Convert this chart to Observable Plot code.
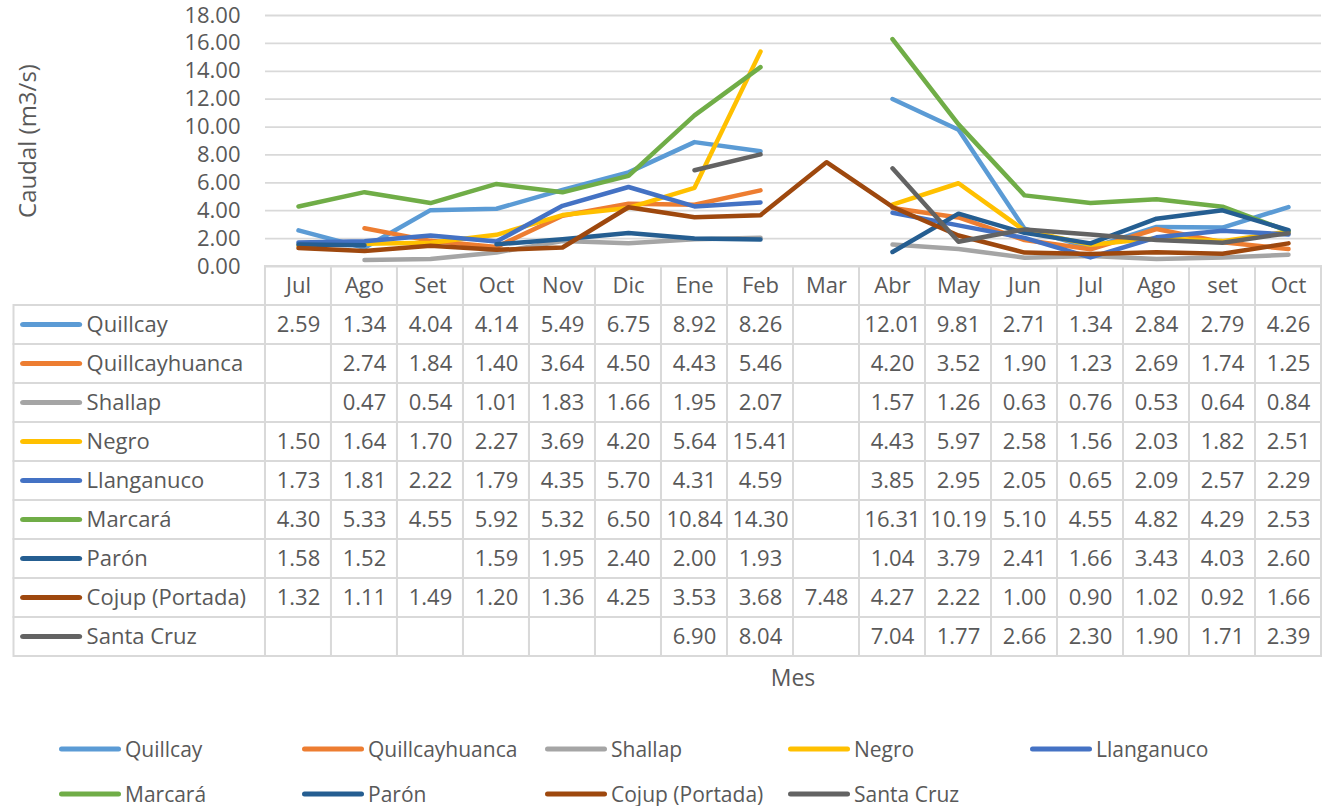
<!DOCTYPE html>
<html>
<head>
<meta charset="utf-8">
<script src="https://cdn.jsdelivr.net/npm/d3@7"></script>
<script src="https://cdn.jsdelivr.net/npm/@observablehq/plot@0.6"></script>
<style>
  html, body { margin: 0; padding: 0; background: #fff; }
  #root { position: relative; width: 1327px; height: 806px; overflow: hidden; background: #fff;
          font-family: "Open Sans", sans-serif; color: #595959; }
  #chart { position: absolute; left: 0; top: 0; z-index: 2; }
  #table { position: absolute; left: 0; top: 264px; z-index: 1; }
  .lbl { position: absolute; color: #595959; white-space: nowrap; z-index: 3; }
  #ylab { left: 26px; top: 141px; transform: translate(-50%, -50%) rotate(-90deg); font-size: 24px; }
  #xlab { left: 793px; top: 677px; transform: translate(-50%, -50%); font-size: 23px; }
  .leg { position: absolute; display: flex; align-items: center; font-size: 21px; line-height: 1; color: #595959; white-space: nowrap; transform: translateY(-50%); }
  .sw { display: inline-block; width: 62px; height: 5px; border-radius: 3px; margin-right: 4px; }
</style>
</head>
<body>
<div id="root">
  <div id="table"></div>
  <div id="chart"></div>
  <div class="lbl" id="ylab">Caudal (m3/s)</div>
  <div class="lbl" id="xlab">Mes</div>
  <div id="legend"></div>
</div>
<script>
const months = ["Jul","Ago","Set","Oct","Nov","Dic","Ene","Feb","Mar","Abr","May","Jun","Jul","Ago","set","Oct"];
const seriesNames = ["Quillcay","Quillcayhuanca","Shallap","Negro","Llanganuco","Marcará","Parón","Cojup (Portada)","Santa Cruz"];
const colors = ["#5B9BD5","#ED7D31","#A5A5A5","#FFC000","#4472C4","#70AD47","#255E91","#9E480E","#636363"];
const yTicks = [0,2,4,6,8,10,12,14,16,18];

const quillcay      = [2.59,1.34,4.04,4.14,5.49,6.75,8.92,8.26,null,12.01,9.81,2.71,1.34,2.84,2.79,4.26];
const quillcayhuanca= [null,2.74,1.84,1.40,3.64,4.50,4.43,5.46,null,4.20,3.52,1.90,1.23,2.69,1.74,1.25];
const shallap       = [null,0.47,0.54,1.01,1.83,1.66,1.95,2.07,null,1.57,1.26,0.63,0.76,0.53,0.64,0.84];
const negro         = [1.50,1.64,1.70,2.27,3.69,4.20,5.64,15.41,null,4.43,5.97,2.58,1.56,2.03,1.82,2.51];
const llanganuco    = [1.73,1.81,2.22,1.79,4.35,5.70,4.31,4.59,null,3.85,2.95,2.05,0.65,2.09,2.57,2.29];
const marcara       = [4.30,5.33,4.55,5.92,5.32,6.50,10.84,14.30,null,16.31,10.19,5.10,4.55,4.82,4.29,2.53];
const paron         = [1.58,1.52,null,1.59,1.95,2.40,2.00,1.93,null,1.04,3.79,2.41,1.66,3.43,4.03,2.60];
const cojup         = [1.32,1.11,1.49,1.20,1.36,4.25,3.53,3.68,7.48,4.27,2.22,1.00,0.90,1.02,0.92,1.66];
const santaCruz     = [null,null,null,null,null,null,6.90,8.04,null,7.04,1.77,2.66,2.30,1.90,1.71,2.39];

const seriesValues = [quillcay, quillcayhuanca, shallap, negro, llanganuco, marcara, paron, cojup, santaCruz];

const data = seriesNames.flatMap((s, k) => seriesValues[k].map((v, i) => ({series: s, i, v})));
const font = "'Open Sans', sans-serif";
const txt = "#595959";
const gridColor = "#D9D9D9";

// ---- Line chart ----
const chart = Plot.plot({
  width: 1327, height: 292,
  marginTop: 15, marginBottom: 26, marginLeft: 265, marginRight: 6,
  style: {fontFamily: font, fontSize: "22px", color: txt, background: "transparent", overflow: "visible"},
  x: {domain: [0, 16], axis: null},
  y: {domain: [0, 18], ticks: yTicks, tickFormat: d3.format(".2f"), tickSize: 0, tickPadding: 25, label: null},
  color: {domain: seriesNames, range: colors},
  marks: [
    Plot.ruleY(yTicks, {stroke: gridColor, strokeWidth: 1.8}),
    Plot.line(data, {x: d => d.i + 0.5, y: "v", z: "series", stroke: "series",
      strokeWidth: 4.5, strokeLinecap: "round", strokeLinejoin: "round"})
  ]
});
document.getElementById("chart").appendChild(chart);

// ---- Data table ----
const rowKeys = ["__hdr", ...seriesNames];
const cols = d3.range(16);
const monthCells = rowKeys.flatMap(r => cols.map(i => ({r, i})));
const table = Plot.plot({
  width: 1327, height: 395,
  marginTop: 1, marginBottom: 2, marginLeft: 13.5, marginRight: 6,
  style: {fontFamily: font, fontSize: "22px", color: txt, background: "transparent"},
  x: {domain: [-3.81, 16], axis: null},
  y: {type: "band", domain: rowKeys, padding: 0, axis: null},
  color: {domain: seriesNames, range: colors},
  marks: [
    Plot.barX(monthCells, {x1: d => d.i, x2: d => d.i + 1, y: "r", fill: "white", stroke: gridColor, strokeWidth: 2}),
    Plot.barX(seriesNames, {x1: -3.81, x2: 0, y: d => d, fill: "white", stroke: gridColor, strokeWidth: 2}),
    Plot.text(months, {x: (d, i) => i + 0.5, y: () => "__hdr", text: d => d, fill: txt}),
    Plot.text(data.filter(d => d.v != null), {x: d => d.i + 0.5, y: "series", text: d => d.v.toFixed(2), fill: txt}),
    Plot.barX(seriesNames, {x1: -3.71, x2: -2.77, y: d => d, fill: d => d, insetTop: 17, insetBottom: 17, rx: 3}),
    Plot.text(seriesNames, {x: -2.71, y: d => d, text: d => d, textAnchor: "start", fill: txt})
  ]
});
document.getElementById("table").appendChild(table);

// ---- Legend ----
const legX = [59, 302, 545, 788, 1030];
const legY = [749, 794];
const legend = document.getElementById("legend");
seriesNames.forEach((s, k) => {
  const el = document.createElement("div");
  el.className = "leg";
  el.style.left = legX[k % 5] + "px";
  el.style.top = legY[Math.floor(k / 5)] + "px";
  const sw = document.createElement("span");
  sw.className = "sw";
  sw.style.background = colors[k];
  el.appendChild(sw);
  el.appendChild(document.createTextNode(s));
  legend.appendChild(el);
});
</script>
</body>
</html>
